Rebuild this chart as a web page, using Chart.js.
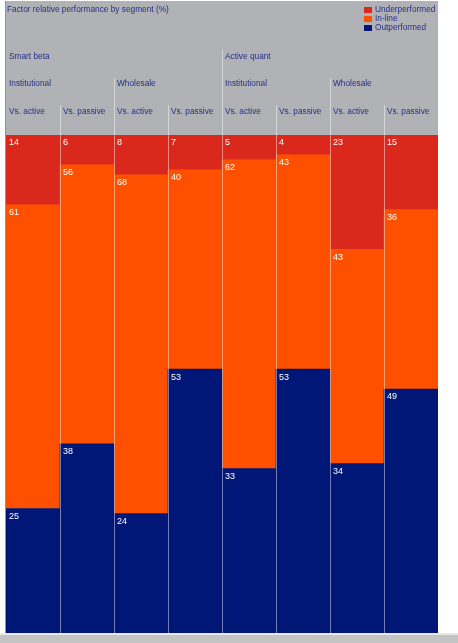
<!DOCTYPE html>
<html>
<head>
<meta charset="utf-8">
<script src="https://cdn.jsdelivr.net/npm/chart.js@4/dist/chart.umd.min.js"></script>
<style>
  html, body { margin: 0; padding: 0; background: #fff; }
  canvas { display: block; }
</style>
</head>
<body>
<canvas id="chart" width="458" height="643"></canvas>
<script>
// segments, left to right
const groups = ["Smart beta", "Active quant"];
const channels = ["Institutional", "Wholesale", "Institutional", "Wholesale"];
const categories = ["Vs. active", "Vs. passive", "Vs. active", "Vs. passive",
                    "Vs. active", "Vs. passive", "Vs. active", "Vs. passive"];

// shares in %
const underperformed = [14, 6, 8, 7, 5, 4, 23, 15];
const inLine = [61, 56, 68, 40, 62, 43, 43, 36];
const outperformed = [25, 38, 24, 53, 33, 53, 34, 49];

const RED = "#da291c";
const ORANGE = "#ff5000";
const NAVY = "#001777";
const GREY = "#b1b2b6";
const TEXT = "#22308a";
const FONT = '"Liberation Sans", Arial, sans-serif';

// grey panel, header texts, legend and the dividers
const headerPlugin = {
  id: "header",
  beforeDraw(chart) {
    const ctx = chart.ctx;
    const area = chart.chartArea;
    ctx.save();
    ctx.fillStyle = "#fff";
    ctx.fillRect(0, 0, chart.width, chart.height);
    ctx.fillStyle = GREY;
    ctx.fillRect(5, 1, area.right - 5, area.bottom - 1);
    ctx.fillStyle = "#8f929c";
    ctx.fillRect(5, 1, 1, area.bottom - 1);
    ctx.fillStyle = "#e8e8e8";
    ctx.fillRect(0, area.bottom, chart.width, 2);
    ctx.fillStyle = "#c4c4c4";
    ctx.fillRect(0, area.bottom + 2, chart.width, chart.height - area.bottom - 2);
    ctx.restore();
  },
  afterDatasetsDraw(chart) {
    const ctx = chart.ctx;
    const area = chart.chartArea;
    const x = chart.scales.x;
    const step = x.getPixelForValue(1) - x.getPixelForValue(0);
    const left = i => x.getPixelForValue(i) - step / 2;

    ctx.save();
    // column dividers, taller where a group or channel changes
    ctx.fillStyle = "rgba(255,255,255,0.45)";
    for (let i = 1; i < categories.length; i++) {
      let top = 105;
      if (i === 4) top = 50;
      else if (i % 2 === 0) top = 78;
      ctx.fillRect(Math.round(left(i)), top, 1, area.bottom - top);
    }

    ctx.fillStyle = TEXT;
    ctx.textBaseline = "middle";
    ctx.textAlign = "left";
    ctx.font = "8.3px " + FONT;
    ctx.fillText("Factor relative performance by segment (%)", 7, 10);

    groups.forEach((g, i) => ctx.fillText(g, left(i * 4) + 3, 57));
    channels.forEach((c, i) => ctx.fillText(c, left(i * 2) + 3, 84));
    categories.forEach((c, i) => ctx.fillText(c, left(i) + 3, 112));

    // legend
    const legend = [["Underperformed", RED], ["In-line", ORANGE], ["Outperformed", NAVY]];
    legend.forEach(([label, color], i) => {
      const y = 10 + i * 9;
      ctx.fillStyle = color;
      ctx.fillRect(364, y - 3, 8, 6);
      ctx.fillStyle = TEXT;
      ctx.fillText(label, 375, y);
    });

    // value labels in the top left corner of each segment
    ctx.fillStyle = "#fff";
    ctx.font = "9px " + FONT;
    chart.data.datasets.forEach((ds, di) => {
      chart.getDatasetMeta(di).data.forEach((bar, i) => {
        const p = bar.getProps(["x", "y", "width"], true);
        ctx.fillText(String(ds.data[i]), p.x - p.width / 2 + 3, p.y + 8);
      });
    });
    ctx.restore();
  }
};

new Chart(document.getElementById("chart"), {
  type: "bar",
  data: {
    labels: categories,
    datasets: [
      { label: "Outperformed", data: outperformed, backgroundColor: NAVY },
      { label: "In-line", data: inLine, backgroundColor: ORANGE },
      { label: "Underperformed", data: underperformed, backgroundColor: RED }
    ]
  },
  options: {
    responsive: false,
    animation: false,
    devicePixelRatio: 1,
    layout: { padding: { left: 6, right: 20, top: 135, bottom: 10 } },
    datasets: { bar: { categoryPercentage: 1, barPercentage: 1, borderWidth: 0 } },
    scales: {
      x: { stacked: true, display: false },
      y: { stacked: true, display: false, min: 0, max: 100 }
    },
    plugins: {
      legend: { display: false },
      tooltip: { enabled: false }
    }
  },
  plugins: [headerPlugin]
});
</script>
</body>
</html>
